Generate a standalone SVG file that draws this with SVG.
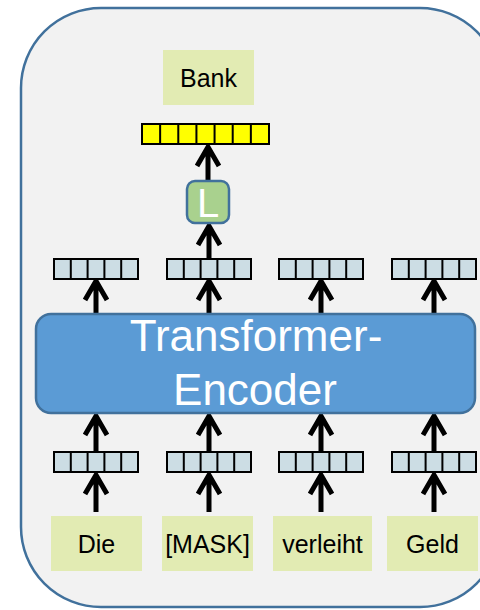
<svg xmlns="http://www.w3.org/2000/svg" xmlns:xlink="http://www.w3.org/1999/xlink" width="480" height="610" viewBox="0 0 480 610">
<style>
.word{fill:#E2EBB3;}
.wt{font-family:"Liberation Sans",Arial,sans-serif;font-size:25px;fill:#000;text-anchor:middle;}
.big{font-family:"Liberation Sans",Arial,sans-serif;font-size:44px;fill:#fff;text-anchor:middle;}
.arr{fill:none;stroke:#000;stroke-width:5;}
.cell{stroke:#000;stroke-width:2;}
</style>
<defs>
<g id="v5">
<rect x="0" y="0" width="84" height="20" fill="#CCDDE4" class="cell"/>
<path d="M16.8 0V20M33.6 0V20M50.4 0V20M67.2 0V20" class="cell"/>
</g>
<g id="v7">
<rect x="0" y="0" width="127" height="20" fill="#FFFF00" class="cell"/>
<path d="M18.14 0V20M36.29 0V20M54.43 0V20M72.57 0V20M90.71 0V20M108.86 0V20" class="cell"/>
</g>
</defs>
<rect id="frame" x="21" y="8" width="479" height="599" rx="80" ry="80" fill="#F2F2F2" stroke="#41719C" stroke-width="2.5"/>

<g id="connectors">
<path class="arr" d="M96 314V281M85 300L96 281L107 300"/>
<path class="arr" d="M209 314V281M198 300L209 281L220 300"/>
<path class="arr" d="M321 314V281M310 300L321 281L332 300"/>
<path class="arr" d="M434 314V281M423 300L434 281L445 300"/>
<path class="arr" d="M209 259V226M198 245L209 226L220 245"/>
<path class="arr" d="M208 182V147M197 166L208 147L219 166"/>
<path class="arr" d="M96 452V416M85 435L96 416L107 435"/>
<path class="arr" d="M209 452V416M198 435L209 416L220 435"/>
<path class="arr" d="M321 452V416M310 435L321 416L332 435"/>
<path class="arr" d="M434 452V416M423 435L434 416L445 435"/>
<path class="arr" d="M96 512V475M85 494L96 475L107 494"/>
<path class="arr" d="M209 512V475M198 494L209 475L220 494"/>
<path class="arr" d="M321 512V475M310 494L321 475L332 494"/>
<path class="arr" d="M434 512V475M423 494L434 475L445 494"/>
</g>

<g id="bank"><rect class="word" x="163" y="50" width="91" height="55"/><text class="wt" x="208.5" y="87" font-size="23">Bank</text></g>
<g id="out-vector"><use xlink:href="#v7" x="142" y="124"/></g>
<g id="L"><rect x="187" y="181" width="42" height="42" rx="8" fill="#A9D18E" stroke="#41719C" stroke-width="2.5"/><text x="208" y="217" font-family="Liberation Sans,Arial,sans-serif" font-size="40" fill="#fff" text-anchor="middle">L</text></g>

<g id="enc-out1"><use xlink:href="#v5" x="54" y="259"/></g>
<g id="enc-out2"><use xlink:href="#v5" x="167" y="259"/></g>
<g id="enc-out3"><use xlink:href="#v5" x="279" y="259"/></g>
<g id="enc-out4"><use xlink:href="#v5" x="392" y="259"/></g>

<g id="encoder"><rect x="36" y="314" width="439" height="99" rx="15" fill="#5B9BD5" stroke="#41719C" stroke-width="2.5"/>
<text class="big" x="256" y="351">Transformer-</text>
<text class="big" x="255" y="405">Encoder</text></g>

<g id="emb1"><use xlink:href="#v5" x="54" y="452"/></g>
<g id="emb2"><use xlink:href="#v5" x="167" y="452"/></g>
<g id="emb3"><use xlink:href="#v5" x="279" y="452"/></g>
<g id="emb4"><use xlink:href="#v5" x="392" y="452"/></g>

<g id="w-die"><rect class="word" x="51" y="516" width="91" height="55"/><text class="wt" x="96.5" y="553">Die</text></g>
<g id="w-mask"><rect class="word" x="162" y="516" width="91" height="55"/><text class="wt" x="207.5" y="553">[MASK]</text></g>
<g id="w-verleiht"><rect class="word" x="273" y="516" width="99" height="55"/><text class="wt" x="322.5" y="553">verleiht</text></g>
<g id="w-geld"><rect class="word" x="387" y="516" width="91" height="55"/><text class="wt" x="432.5" y="553">Geld</text></g>
</svg>
